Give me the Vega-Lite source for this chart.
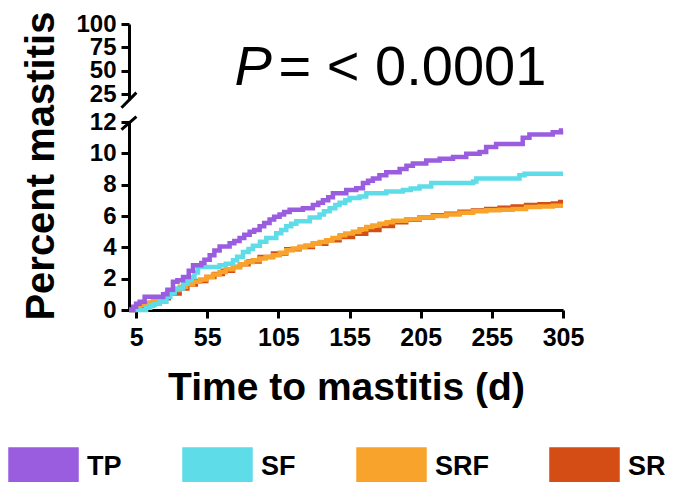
{
  "$schema": "https://vega.github.io/schema/vega-lite/v6.json",
  "background": "white",
  "padding": {"left": 8, "top": 11, "right": 0, "bottom": 0},
  "bounds": "flush",
  "config": {
    "view": {"stroke": null},
    "font": "Liberation Sans",
    "axis": {
      "grid": false,
      "domainColor": "black",
      "domainWidth": 3,
      "tickColor": "black",
      "tickWidth": 3,
      "tickSize": 8,
      "labelFont": "Liberation Sans",
      "labelFontWeight": "bold",
      "labelColor": "black",
      "labelOverlap": false,
      "titleFont": "Liberation Sans",
      "titleFontWeight": "bold",
      "titleColor": "black"
    },
    "axisY": {"labelFontSize": 24, "labelPadding": 5},
    "axisX": {"labelFontSize": 25, "labelPadding": 7, "labelFlush": false}
  },
  "datasets": {
    "curves": [
      {"g":"SR","d":0,"p":0},{"g":"SR","d":4,"p":0.15},{"g":"SR","d":9,"p":0.3},{"g":"SR","d":16.9,"p":0.53},{"g":"SR","d":22,"p":0.75},{"g":"SR","d":28,"p":1.05},{"g":"SR","d":35.6,"p":1.37},{"g":"SR","d":41,"p":1.62},{"g":"SR","d":47,"p":1.85},{"g":"SR","d":54.3,"p":2.1},{"g":"SR","d":60,"p":2.3},{"g":"SR","d":66,"p":2.5},{"g":"SR","d":73.1,"p":2.75},{"g":"SR","d":78,"p":2.92},{"g":"SR","d":84,"p":3.1},{"g":"SR","d":91.8,"p":3.38},{"g":"SR","d":101.2,"p":3.6},{"g":"SR","d":110.5,"p":3.87},{"g":"SR","d":119.9,"p":4.02},{"g":"SR","d":129.2,"p":4.23},{"g":"SR","d":138.6,"p":4.45},{"g":"SR","d":148,"p":4.66},{"g":"SR","d":157.4,"p":4.87},{"g":"SR","d":166.7,"p":5.1},{"g":"SR","d":176,"p":5.36},{"g":"SR","d":185.5,"p":5.6},{"g":"SR","d":194.8,"p":5.76},{"g":"SR","d":204.2,"p":5.9},{"g":"SR","d":213.6,"p":6.05},{"g":"SR","d":223,"p":6.15},{"g":"SR","d":232.3,"p":6.27},{"g":"SR","d":241.7,"p":6.35},{"g":"SR","d":251,"p":6.45},{"g":"SR","d":260.4,"p":6.53},{"g":"SR","d":269.7,"p":6.6},{"g":"SR","d":279,"p":6.7},{"g":"SR","d":288.5,"p":6.75},{"g":"SR","d":297.8,"p":6.8},{"g":"SR","d":303,"p":6.9},{"g":"SR","d":305,"p":6.9},
      {"g":"SRF","d":0,"p":0},{"g":"SRF","d":3,"p":0.15},{"g":"SRF","d":7.5,"p":0.32},{"g":"SRF","d":12,"p":0.48},{"g":"SRF","d":16.9,"p":0.64},{"g":"SRF","d":21,"p":0.8},{"g":"SRF","d":26.3,"p":1.06},{"g":"SRF","d":31,"p":1.27},{"g":"SRF","d":35.6,"p":1.48},{"g":"SRF","d":40,"p":1.65},{"g":"SRF","d":45,"p":1.8},{"g":"SRF","d":50,"p":1.95},{"g":"SRF","d":54.3,"p":2.1},{"g":"SRF","d":59,"p":2.27},{"g":"SRF","d":63.7,"p":2.43},{"g":"SRF","d":68,"p":2.6},{"g":"SRF","d":73.1,"p":2.75},{"g":"SRF","d":78,"p":2.92},{"g":"SRF","d":82.5,"p":3.07},{"g":"SRF","d":87,"p":3.18},{"g":"SRF","d":91.8,"p":3.28},{"g":"SRF","d":96,"p":3.38},{"g":"SRF","d":101.2,"p":3.49},{"g":"SRF","d":106,"p":3.65},{"g":"SRF","d":110.5,"p":3.81},{"g":"SRF","d":115,"p":3.92},{"g":"SRF","d":119.9,"p":4.02},{"g":"SRF","d":124,"p":4.12},{"g":"SRF","d":129.2,"p":4.23},{"g":"SRF","d":134,"p":4.34},{"g":"SRF","d":138.6,"p":4.45},{"g":"SRF","d":143,"p":4.6},{"g":"SRF","d":148,"p":4.77},{"g":"SRF","d":152,"p":4.88},{"g":"SRF","d":157.4,"p":5.0},{"g":"SRF","d":162,"p":5.15},{"g":"SRF","d":166.7,"p":5.3},{"g":"SRF","d":171,"p":5.4},{"g":"SRF","d":176,"p":5.5},{"g":"SRF","d":181,"p":5.6},{"g":"SRF","d":185.5,"p":5.7},{"g":"SRF","d":194.8,"p":5.8},{"g":"SRF","d":204.2,"p":5.9},{"g":"SRF","d":213.6,"p":6.0},{"g":"SRF","d":223,"p":6.1},{"g":"SRF","d":232.3,"p":6.2},{"g":"SRF","d":241.7,"p":6.3},{"g":"SRF","d":251,"p":6.37},{"g":"SRF","d":260.4,"p":6.4},{"g":"SRF","d":269.7,"p":6.45},{"g":"SRF","d":279,"p":6.58},{"g":"SRF","d":288.5,"p":6.6},{"g":"SRF","d":297.8,"p":6.65},{"g":"SRF","d":305,"p":6.65},
      {"g":"SF","d":0,"p":0},{"g":"SF","d":12,"p":0.15},{"g":"SF","d":14.9,"p":0.32},{"g":"SF","d":18,"p":0.4},{"g":"SF","d":21.6,"p":0.53},{"g":"SF","d":26.3,"p":0.85},{"g":"SF","d":29,"p":1.1},{"g":"SF","d":32.1,"p":1.37},{"g":"SF","d":38,"p":1.69},{"g":"SF","d":41,"p":1.9},{"g":"SF","d":43.8,"p":2.1},{"g":"SF","d":46,"p":2.4},{"g":"SF","d":48.5,"p":2.75},{"g":"SF","d":63.7,"p":2.85},{"g":"SF","d":68,"p":2.95},{"g":"SF","d":73.1,"p":3.17},{"g":"SF","d":76,"p":3.4},{"g":"SF","d":80.1,"p":3.7},{"g":"SF","d":84,"p":3.9},{"g":"SF","d":87.1,"p":4.1},{"g":"SF","d":92,"p":4.35},{"g":"SF","d":96.5,"p":4.6},{"g":"SF","d":103.5,"p":4.9},{"g":"SF","d":107,"p":5.1},{"g":"SF","d":110.5,"p":5.35},{"g":"SF","d":114,"p":5.5},{"g":"SF","d":117.6,"p":5.67},{"g":"SF","d":127,"p":5.9},{"g":"SF","d":133.9,"p":6.1},{"g":"SF","d":137,"p":6.3},{"g":"SF","d":141,"p":6.5},{"g":"SF","d":145,"p":6.7},{"g":"SF","d":148,"p":6.85},{"g":"SF","d":152,"p":7.0},{"g":"SF","d":155,"p":7.15},{"g":"SF","d":162,"p":7.25},{"g":"SF","d":166.7,"p":7.45},{"g":"SF","d":180.8,"p":7.56},{"g":"SF","d":192.5,"p":7.66},{"g":"SF","d":198,"p":7.75},{"g":"SF","d":204.2,"p":7.88},{"g":"SF","d":212.4,"p":8.1},{"g":"SF","d":241.8,"p":8.2},{"g":"SF","d":244.1,"p":8.4},{"g":"SF","d":274.4,"p":8.6},{"g":"SF","d":278,"p":8.7},{"g":"SF","d":305,"p":8.7},
      {"g":"TP","d":0,"p":0},{"g":"TP","d":3,"p":0.2},{"g":"TP","d":5,"p":0.4},{"g":"TP","d":7.5,"p":0.53},{"g":"TP","d":11,"p":0.85},{"g":"TP","d":21.6,"p":0.85},{"g":"TP","d":24,"p":1.0},{"g":"TP","d":27,"p":1.3},{"g":"TP","d":30.9,"p":1.8},{"g":"TP","d":34,"p":1.9},{"g":"TP","d":38,"p":2.1},{"g":"TP","d":42,"p":2.5},{"g":"TP","d":45,"p":2.85},{"g":"TP","d":50.8,"p":3.0},{"g":"TP","d":53,"p":3.2},{"g":"TP","d":56.7,"p":3.5},{"g":"TP","d":60,"p":3.8},{"g":"TP","d":63.7,"p":4.05},{"g":"TP","d":70.7,"p":4.26},{"g":"TP","d":74,"p":4.4},{"g":"TP","d":77.7,"p":4.6},{"g":"TP","d":81,"p":4.8},{"g":"TP","d":84.8,"p":5.0},{"g":"TP","d":88,"p":5.1},{"g":"TP","d":91.8,"p":5.35},{"g":"TP","d":95,"p":5.55},{"g":"TP","d":98.8,"p":5.77},{"g":"TP","d":102,"p":5.95},{"g":"TP","d":105.8,"p":6.1},{"g":"TP","d":109,"p":6.25},{"g":"TP","d":112.9,"p":6.4},{"g":"TP","d":122.2,"p":6.5},{"g":"TP","d":129.2,"p":6.7},{"g":"TP","d":133,"p":6.85},{"g":"TP","d":136.3,"p":7.0},{"g":"TP","d":140,"p":7.2},{"g":"TP","d":143.3,"p":7.45},{"g":"TP","d":152.7,"p":7.66},{"g":"TP","d":159.7,"p":7.77},{"g":"TP","d":164.4,"p":8.1},{"g":"TP","d":168,"p":8.25},{"g":"TP","d":171.4,"p":8.4},{"g":"TP","d":176,"p":8.6},{"g":"TP","d":180.8,"p":8.8},{"g":"TP","d":190.2,"p":9.0},{"g":"TP","d":195,"p":9.2},{"g":"TP","d":199.5,"p":9.35},{"g":"TP","d":208.9,"p":9.55},{"g":"TP","d":218.3,"p":9.65},{"g":"TP","d":227.7,"p":9.76},{"g":"TP","d":237,"p":9.97},{"g":"TP","d":246.4,"p":10.08},{"g":"TP","d":251,"p":10.4},{"g":"TP","d":258,"p":10.6},{"g":"TP","d":276.7,"p":11.0},{"g":"TP","d":281.4,"p":11.2},{"g":"TP","d":297.8,"p":11.35},{"g":"TP","d":303.6,"p":11.45},{"g":"TP","d":305,"p":11.45}
    ]
  },
  "resolve": {"scale": {"x": "independent", "y": "independent"}},
  "spacing": 22,
  "vconcat": [
    {
      "width": 434,
      "height": 76,
      "data": {"values": [{}]},
      "layer": [
        {
          "mark": {"type": "rule", "strokeWidth": 3, "color": "black"},
          "encoding": {
            "x": {"datum": -5.3, "type": "quantitative", "scale": {"domain": [0, 305], "nice": false, "zero": false}, "axis": null},
            "x2": {"datum": 5.2},
            "y": {"datum": 10.8, "type": "quantitative", "scale": {"domain": [19, 100], "nice": false, "zero": false},
                  "axis": {"values": [25, 50, 75, 100], "title": null}},
            "y2": {"datum": 26.8}
          }
        },
        {
          "mark": {"type": "text", "text": "P", "font": "Liberation Sans", "fontStyle": "italic", "fontSize": 56, "align": "left", "baseline": "alphabetic", "color": "black"},
          "encoding": {
            "x": {"datum": 74.2, "type": "quantitative", "axis": null},
            "y": {"datum": 35, "type": "quantitative", "axis": {"values": [25, 50, 75, 100], "title": null}}
          }
        },
        {
          "mark": {"type": "text", "text": "= < 0.0001", "font": "Liberation Sans", "fontSize": 56, "align": "right", "baseline": "alphabetic", "color": "black"},
          "encoding": {
            "x": {"datum": 293.3, "type": "quantitative", "axis": null},
            "y": {"datum": 35, "type": "quantitative", "axis": {"values": [25, 50, 75, 100], "title": null}}
          }
        }
      ]
    },
    {
      "width": 434,
      "height": 188,
      "layer": [
        {
          "data": {"name": "curves"},
          "mark": {"type": "line", "interpolate": "step-after"},
          "encoding": {
            "x": {"field": "d", "type": "quantitative", "scale": {"domain": [0, 305], "nice": false, "zero": false},
                  "axis": {"values": [5, 55, 105, 155, 205, 255, 305], "title": "Time to mastitis (d)", "titleFontSize": 39, "titlePadding": 18}},
            "y": {"field": "p", "type": "quantitative", "scale": {"domain": [0, 12], "nice": false, "zero": false},
                  "axis": {"values": [0, 2, 4, 6, 8, 10, 12],
                           "title": "Percent mastitis", "titleFontSize": 40, "titleX": -76, "titleY": 43.6, "titleBaseline": "alphabetic", "titleAlign": "center", "titleAngle": 270}},
            "color": {"field": "g", "type": "nominal",
                      "scale": {"domain": ["TP", "SF", "SRF", "SR"], "range": ["#9B5DE0", "#5EDCE7", "#F8A42C", "#D44D14"]},
                      "legend": {"orient": "none", "legendX": -121, "legendY": 407.5, "direction": "horizontal", "title": null,
                                 "symbolType": "M-1,-0.53H1V0.53H-1Z", "symbolSize": 4356, "symbolStrokeWidth": 0,
                                 "labelFontSize": 27, "labelFont": "Liberation Sans", "labelFontWeight": "bold", "labelColor": "black",
                                 "labelOffset": 8, "labelBaseline": "middle", "columnPadding": 53,
                                 "encode": {"symbols": {"update": {"fill": {"scale": "color", "field": "value"}, "opacity": {"value": 1}}}}}},
            "strokeWidth": {"field": "g", "type": "nominal", "scale": {"domain": ["TP", "SF", "SRF", "SR"], "range": [4.5, 4.5, 5.5, 3.5]}, "legend": null}
          }
        },
        {
          "data": {"values": [{}]},
          "mark": {"type": "rule", "strokeWidth": 3, "color": "black"},
          "encoding": {
            "x": {"datum": -5.3, "type": "quantitative", "axis": {"values": [5, 55, 105, 155, 205, 255, 305], "title": "Time to mastitis (d)", "titleFontSize": 39, "titlePadding": 18}},
            "x2": {"datum": 5.2},
            "y": {"datum": 11.51, "type": "quantitative", "axis": {"values": [0, 2, 4, 6, 8, 10, 12],
                           "title": "Percent mastitis", "titleFontSize": 40, "titleX": -76, "titleY": 43.6, "titleBaseline": "alphabetic", "titleAlign": "center", "titleAngle": 270}},
            "y2": {"datum": 12.34}
          }
        }
      ]
    }
  ]
}
